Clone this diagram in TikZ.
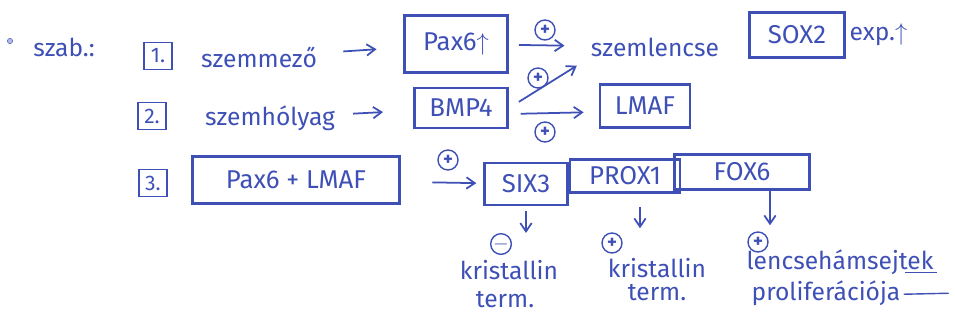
\documentclass[tikz,border=0pt]{standalone}
\usepackage{fontspec}
\setmainfont{Fira Sans}
\usepackage{tikz}
\usetikzlibrary{arrows.meta, positioning, calc}
\definecolor{ink}{RGB}{62,80,182}

\begin{document}
\begin{tikzpicture}[
    x=0.03cm, y=-0.03cm,
    every node/.style={text=ink},
    gene/.style={rectangle, draw=ink, line width=2.3pt, inner sep=2pt, align=center, font=\fontsize{22}{24}\selectfont},
    numbox/.style={rectangle, draw=ink, line width=1.3pt, minimum width=0.85cm, minimum height=0.8cm, inner sep=1pt, font=\fontsize{18}{18}\selectfont},
    word/.style={inner sep=1pt, font=\fontsize{21}{24}\selectfont},
    sign/.style={circle, draw=ink, line width=1.2pt, minimum size=0.6cm, inner sep=0pt, font=\fontsize{16}{16}\selectfont\bfseries},
    arrow/.style={draw=ink, line width=1.5pt, -{Straight Barb[length=2.5mm, width=3.4mm]}}
]
    \useasboundingbox (0,0) rectangle (955,327);

    % 1. sor
    \node[circle, draw=ink, fill=ink!40, inner sep=1.6pt] (dot) at (10,41) {};
    \node[word] (szab) at (64,47) {szab.:};
    \node[numbox] (n1) at (158,56) {1.};
    \node[word] (mezo) at (259,57) {szemmező};
    \node[gene, minimum width=3.09cm, minimum height=1.71cm] (pax6) at (456,44) {Pax6$\uparrow$};
    \node[sign] (p1) at (545,30) {+};
    \node[word] (lencse) at (655,47) {szemlencse};
    \node[gene, minimum width=2.85cm, minimum height=1.35cm] (sox2) at (797,35) {SOX2};
    \node[word, right=2pt of sox2] (exp) {exp.$\uparrow$};

    % 2. sor
    \node[numbox] (n2) at (152,116) {2.};
    \node[word] (holyag) at (270,118) {szemhólyag};
    \node[gene, minimum width=2.8cm, minimum height=1.2cm] (bmp4) at (461,108) {BMP4};
    \node[gene, minimum width=2.7cm, minimum height=1.3cm] (lmaf) at (645,106) {LMAF};
    \node[sign] (p2) at (538,78) {+};
    \node[sign] (p3) at (545,132) {+};

    % 3. sor
    \node[numbox] (n3) at (153,183) {3.};
    \node[gene, minimum width=6.2cm, minimum height=1.4cm] (paxl) at (296,180) {Pax6 + LMAF};
    \node[sign] (p4) at (448,160) {+};
    \node[gene, minimum width=2.5cm, minimum height=1.26cm] (six3) at (526,184) {SIX3};
    \node[gene, minimum width=3.3cm, minimum height=1.0cm] (prox1) at (625,176) {PROX1};
    \node[gene, minimum width=4.05cm, minimum height=1.05cm] (fox6) at (742,172) {FOX6};

    % hatasok
    \node[sign] (m1) at (501,244) {$-$};
    \node[word] (kr1) at (509,270) {kristallin};
    \node[word] (t1) at (505,300) {term.};
    \node[sign] (p5) at (612,243) {+};
    \node[word] (kr2) at (657,268) {kristallin};
    \node[word] (t2) at (657,293) {term.};
    \node[sign] (p6) at (758,242) {+};
    \node[word] (lencsehs) at (840,262) {lencsehámsejtek};
    \node[word] (prolif) at (826,293) {proliferációja};

    \draw[arrow, shorten <=0.75cm, shorten >=0.8cm] (mezo) -- (pax6);
    \draw[arrow, shorten <=0.3cm, shorten >=0.75cm] (pax6) -- (lencse);
    \draw[arrow, shorten <=0.5cm, shorten >=0.9cm] (holyag) -- (bmp4);
    \draw[arrow, shorten <=0.35cm, shorten >=0.45cm] (bmp4.east) -- (lencse.south west);
    \draw[arrow, shorten <=0.35cm, shorten >=0.45cm] ($(bmp4.east)+(0,6)$) -- ($(lmaf.west)+(0,6)$);
    \draw[arrow, shorten <=0.95cm, shorten >=0.2cm] (paxl) -- (six3);
    \draw[arrow, shorten <=0.15cm] (six3.south) -- (six3.south |- m1.north);
    \draw[arrow, shorten <=0.4cm] ($(prox1.south)+(15,0)$) -- ($(p5.north)+(28,-4)$);
    \draw[arrow] ($(fox6.south)+(28,0)$) -- ($(p6.north)+(12,-6)$);
    \draw[ink, line width=1.2pt] ($(lencsehs.base east)+(-30,3)$) -- ++(32,0);
    \draw[ink, line width=1.2pt] ($(prolif.base east)+(2,-6)$) -- ++(45,-1);
\end{tikzpicture}
\end{document}
